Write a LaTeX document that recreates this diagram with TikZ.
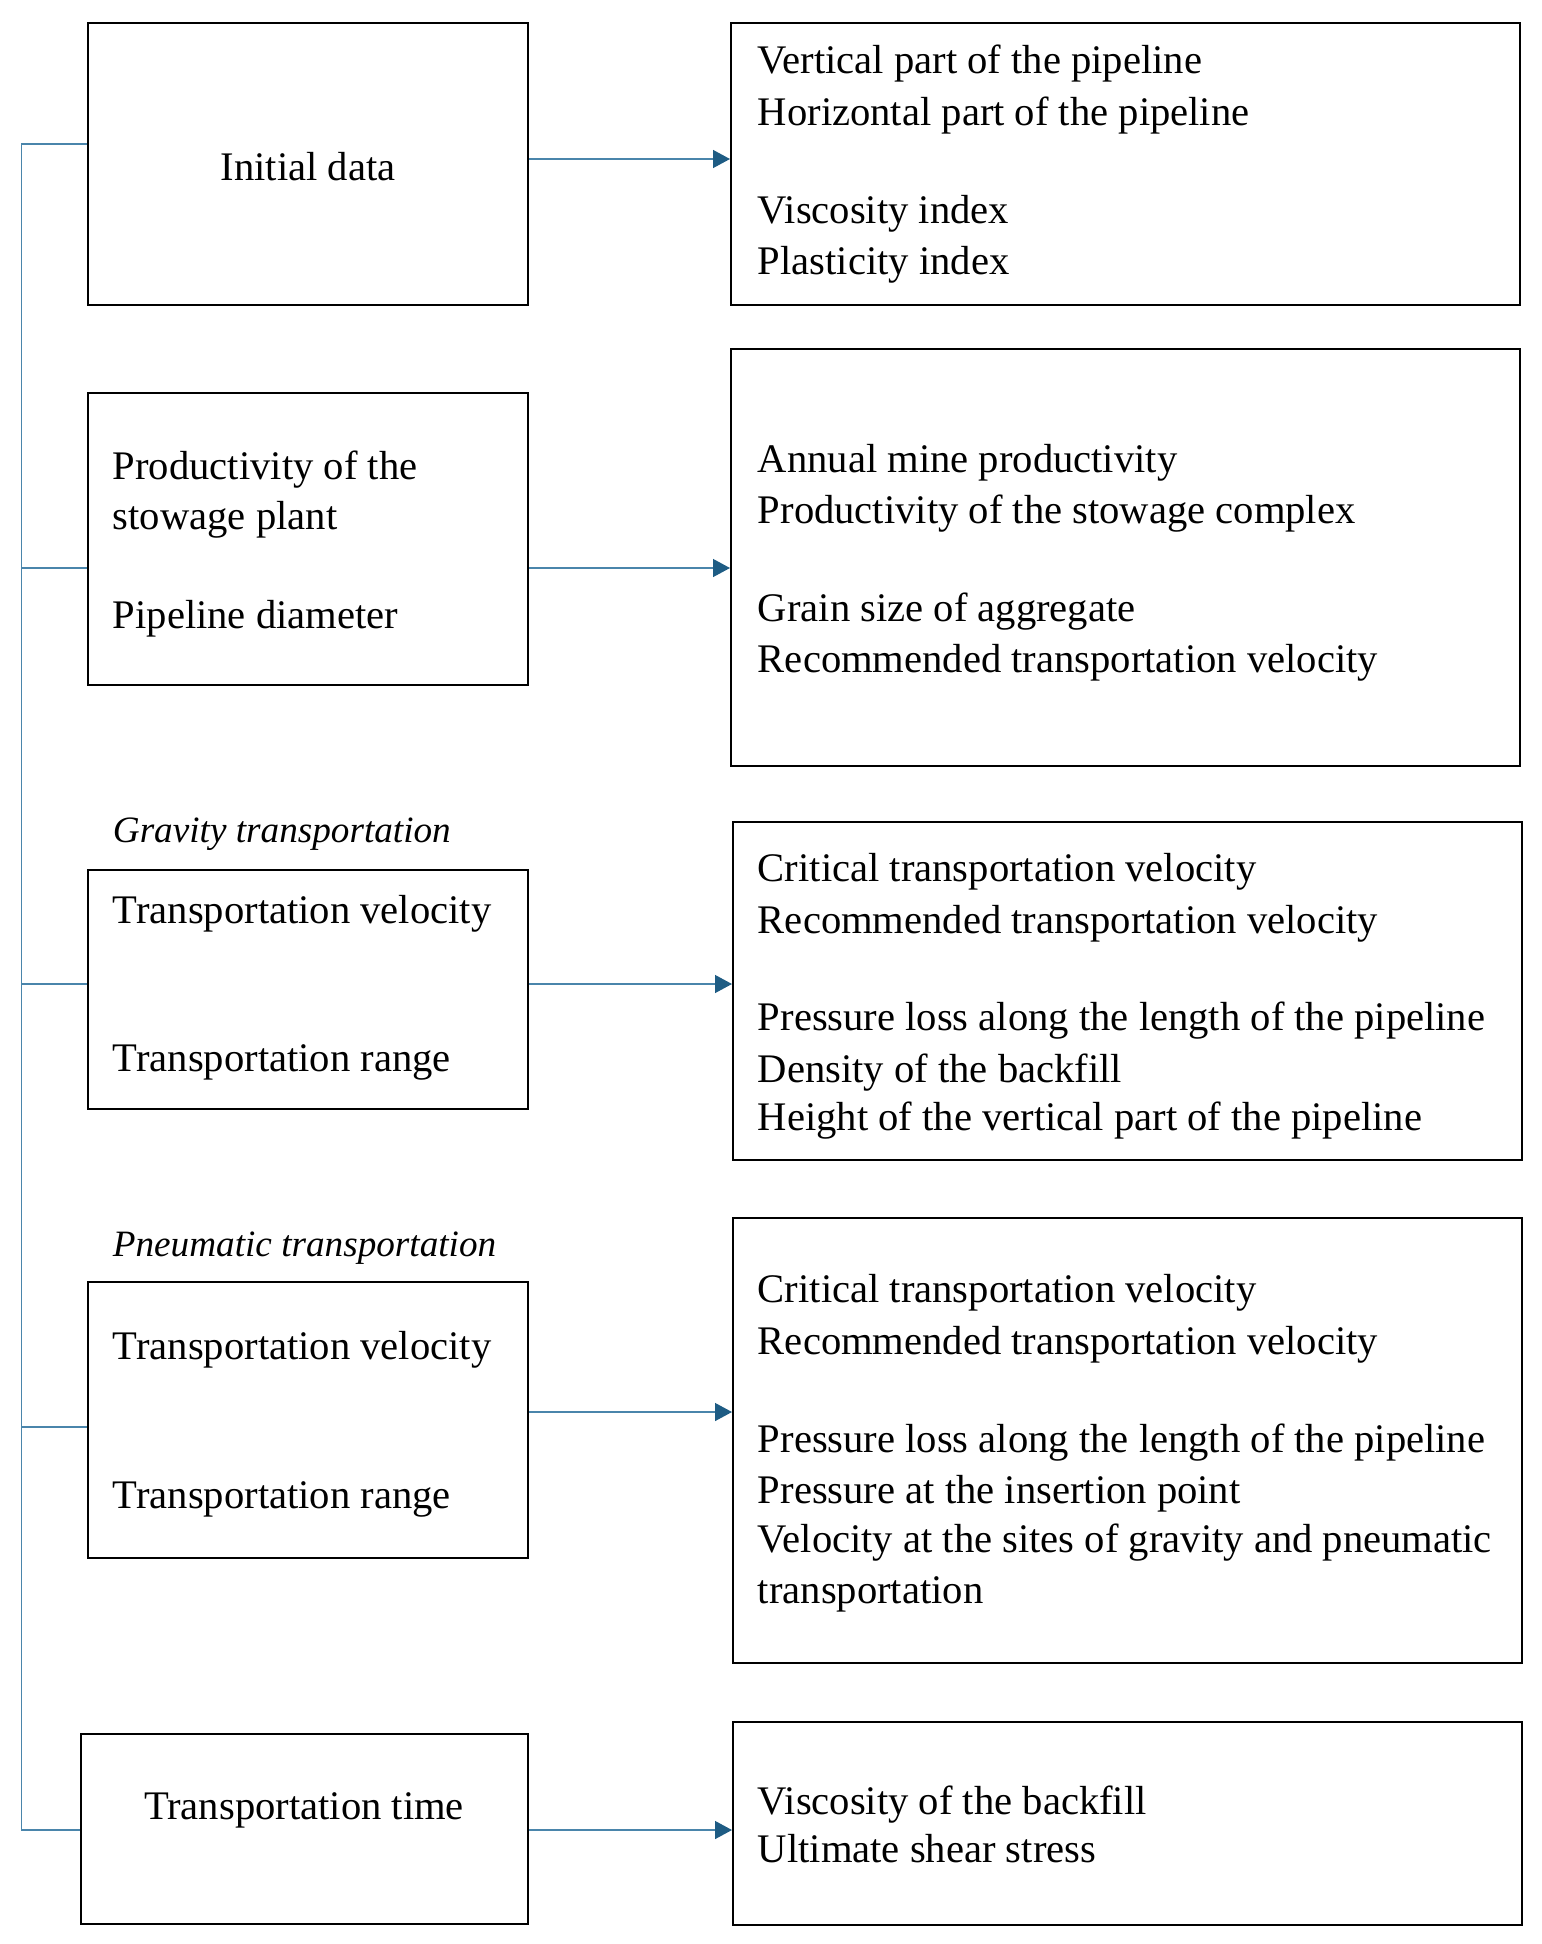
\documentclass[tikz,border=0pt]{standalone}
\usepackage{fontspec}
\setmainfont{Liberation Serif}
\usetikzlibrary{arrows.meta,fit}
\definecolor{conn}{RGB}{74,133,171}
\definecolor{tipc}{RGB}{30,92,132}
\begin{document}
\begin{tikzpicture}[x=0.5pt,y=-0.5pt,
  box/.style={draw=black, line width=1pt, inner sep=0pt},
  txt/.style={inner sep=0pt, anchor=base west, font=\fontsize{20.3pt}{25.5pt}\selectfont},
  ctxt/.style={inner sep=0pt, anchor=base, font=\fontsize{20.3pt}{25.5pt}\selectfont},
  itxt/.style={inner sep=0pt, anchor=base west, font=\fontsize{18.6pt}{25.5pt}\selectfont\itshape},
  link/.style={draw=conn, line width=0.7pt},
  arr/.style={link, -{Triangle[length=8.5pt,width=9pt,color=tipc]}}]
\useasboundingbox (0,0) rectangle (1542,1944);

% left boxes
\node[box, fit={(88,23) (528,305)}] (b1) {};
\node[box, fit={(88,393) (528,685)}] (b2) {};
\node[box, fit={(88,870) (528,1109)}] (b3) {};
\node[box, fit={(88,1282) (528,1558)}] (b4) {};
\node[box, fit={(80.5,1734) (528,1924)}] (b5) {};

% right boxes
\node[box, fit={(731,23) (1520,305)}] (r1) {};
\node[box, fit={(731,349) (1520,766)}] (r2) {};
\node[box, fit={(733,822) (1522,1160)}] (r3) {};
\node[box, fit={(733,1218) (1522,1663)}] (r4) {};
\node[box, fit={(733,1722) (1522,1925)}] (r5) {};

% left texts
\node[ctxt] (t1) at (308,180) {Initial data};
\node[txt] (t2a) at (112.5,479) {Productivity of the};
\node[txt] (t2b) at (112.5,529) {stowage plant};
\node[txt] (t2c) at (112.5,628) {Pipeline diameter};
\node[itxt] (g1) at (112.5,842) {Gravity transportation};
\node[txt] (t3a) at (112.5,923) {Transportation velocity};
\node[txt] (t3b) at (112.5,1071) {Transportation range};
\node[itxt] (g2) at (112.5,1256) {Pneumatic transportation};
\node[txt] (t4a) at (112.5,1359) {Transportation velocity};
\node[txt] (t4b) at (112.5,1508) {Transportation range};
\node[ctxt] (t5) at (304,1819) {Transportation time};

% right texts
\node[txt] (s1a) at (757.5,73) {Vertical part of the pipeline};
\node[txt] (s1b) at (757.5,125) {Horizontal part of the pipeline};
\node[txt] (s1c) at (757.5,223) {Viscosity index};
\node[txt] (s1d) at (757.5,274) {Plasticity index};

\node[txt] (s2a) at (757.5,472) {Annual mine productivity};
\node[txt] (s2b) at (757.5,523) {Productivity of the stowage complex};
\node[txt] (s2c) at (757.5,621) {Grain size of aggregate};
\node[txt] (s2d) at (757.5,672) {Recommended transportation velocity};

\node[txt] (s3a) at (757.5,881) {Critical transportation velocity};
\node[txt] (s3b) at (757.5,933) {Recommended transportation velocity};
\node[txt] (s3c) at (757.5,1030) {Pressure loss along the length of the pipeline};
\node[txt] (s3d) at (757.5,1082) {Density of the backfill};
\node[txt] (s3e) at (757.5,1130) {Height of the vertical part of the pipeline};

\node[txt] (s4a) at (757.5,1302) {Critical transportation velocity};
\node[txt] (s4b) at (757.5,1354) {Recommended transportation velocity};
\node[txt] (s4c) at (757.5,1452) {Pressure loss along the length of the pipeline};
\node[txt] (s4d) at (757.5,1503) {Pressure at the insertion point};
\node[txt] (s4e) at (757.5,1552) {Velocity at the sites of gravity and pneumatic};
\node[txt] (s4f) at (757.5,1603) {transportation};

\node[txt] (s5a) at (757.5,1814) {Viscosity of the backfill};
\node[txt] (s5b) at (757.5,1862) {Ultimate shear stress};

% bus
\coordinate (j1) at (21.5,144);
\coordinate (j2) at (21.5,568);
\coordinate (j3) at (21.5,984);
\coordinate (j4) at (21.5,1427);
\coordinate (j5) at (21.5,1830);
\draw[link] (b1.west |- j1) -- (j1) -- (j5) -- (b5.west |- j5);
\draw[link] (j2) -- (b2.west |- j2);
\draw[link] (j3) -- (b3.west |- j3);
\draw[link] (j4) -- (b4.west |- j4);

% arrows
\coordinate (a1) at (0,159);
\coordinate (a2) at (0,568);
\coordinate (a3) at (0,984);
\coordinate (a4) at (0,1412);
\coordinate (a5) at (0,1830);
\draw[arr] (b1.east |- a1) -- (r1.west |- a1);
\draw[arr] (b2.east |- a2) -- (r2.west |- a2);
\draw[arr] (b3.east |- a3) -- (r3.west |- a3);
\draw[arr] (b4.east |- a4) -- (r4.west |- a4);
\draw[arr] (b5.east |- a5) -- (r5.west |- a5);
\end{tikzpicture}
\end{document}
